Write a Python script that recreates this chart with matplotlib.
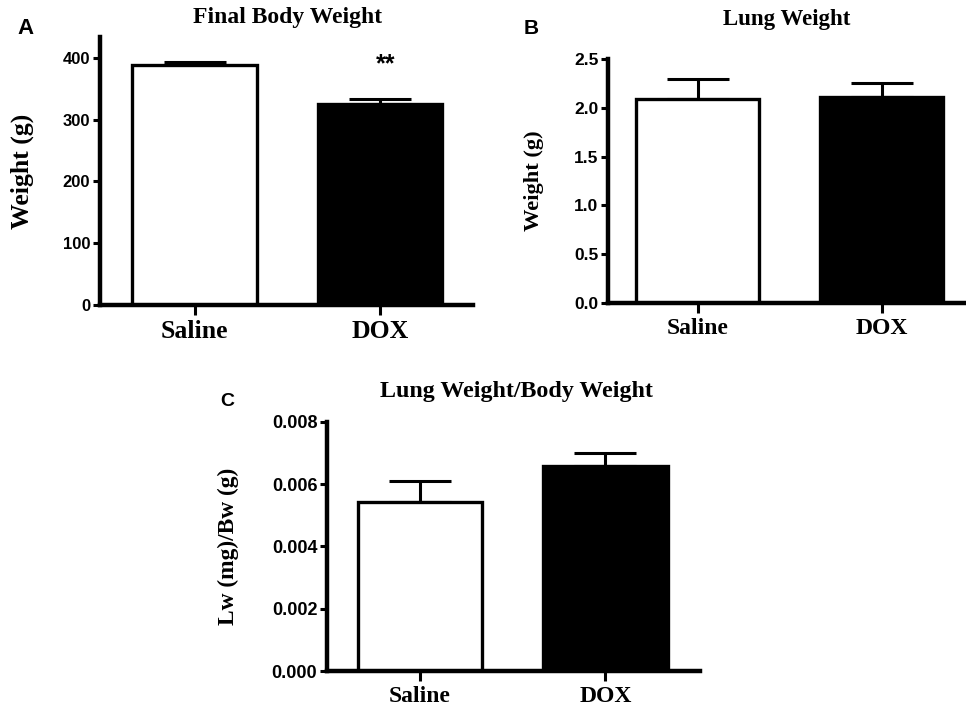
import matplotlib
matplotlib.use("Agg")
import matplotlib.pyplot as plt

W, H = 966, 708

groups = ["Saline", "DOX"]
bar_colors = ["white", "black"]

body_mean = [388, 325]
body_sem = [5, 8]

lung_mean = [2.09, 2.115]
lung_sem = [0.21, 0.14]

ratio_mean = [0.00541, 0.00659]
ratio_sem = [0.00070, 0.00040]

SERIF = "Liberation Serif"
SANS = "Liberation Sans"

fig = plt.figure(figsize=(W / 100, H / 100), dpi=100)


def px(x, y):
  return x / W, 1 - y / H


def box(left, top, right, bottom):
  return [left / W, 1 - bottom / H, (right - left) / W, (bottom - top) / H]


def draw_panel(rect, means, sems, ylim, yticks, yfmt, xlim, label_size, tick_size):
  ax = fig.add_axes(rect)
  x = range(len(groups))
  ax.errorbar(x, means, yerr=[[0] * len(sems), sems], fmt="none",
              ecolor="black", elinewidth=2.2, capsize=22, capthick=2.2, zorder=1)
  ax.bar(x, means, width=0.67, color=bar_colors, edgecolor="black",
         linewidth=2.4, zorder=2)
  ax.set_xlim(*xlim)
  ax.set_ylim(*ylim)
  ax.set_yticks(yticks)
  ax.set_yticklabels([yfmt.format(t) for t in yticks])
  ax.set_xticks(list(x))
  ax.set_xticklabels(groups)
  for s in ["top", "right"]:
    ax.spines[s].set_visible(False)
  for s in ["left", "bottom"]:
    ax.spines[s].set_linewidth(3.2)
  ax.tick_params(axis="y", direction="out", length=5, width=2.2, pad=2)
  ax.tick_params(axis="x", direction="out", length=7, width=2.2, pad=4)
  for t in ax.get_yticklabels():
    t.set_fontfamily(SANS)
    t.set_fontweight("bold")
    t.set_fontsize(tick_size)
  for t in ax.get_xticklabels():
    t.set_fontfamily(SERIF)
    t.set_fontweight("bold")
    t.set_fontsize(label_size)
  return ax


# A: final body weight
axA = draw_panel(box(100, 37, 473, 305), body_mean, body_sem, (0, 434),
                 [0, 100, 200, 300, 400], "{:.0f}", (-0.51, 1.5), 18.5, 12)
axA.annotate("**", xy=(1, body_mean[1] + body_sem[1]), xytext=(4, 25),
             textcoords="offset points", ha="center", va="center",
             fontfamily=SANS, fontweight="bold", fontsize=18)

# B: lung weight
draw_panel(box(608, 59, 966, 303), lung_mean, lung_sem, (0, 2.5),
           [0.0, 0.5, 1.0, 1.5, 2.0, 2.5], "{:.1f}", (-0.49, 1.46), 17, 12.5)

# C: lung / body weight
draw_panel(box(327, 421.7, 700, 671), ratio_mean, ratio_sem, (0, 0.008),
           [0.0, 0.002, 0.004, 0.006, 0.008], "{:.3f}", (-0.5, 1.51), 17, 13)

# titles
fig.text(*px(288, 18), "Final Body Weight", ha="center", va="center",
         fontfamily=SERIF, fontweight="bold", fontsize=17)
fig.text(*px(787, 19), "Lung Weight", ha="center", va="center",
         fontfamily=SERIF, fontweight="bold", fontsize=16.5)
fig.text(*px(516, 392), "Lung Weight/Body Weight", ha="center", va="center",
         fontfamily=SERIF, fontweight="bold", fontsize=17.3)

# y labels
fig.text(*px(22, 171), "Weight (g)", ha="center", va="center", rotation=90,
         fontfamily=SERIF, fontweight="bold", fontsize=18.5)
fig.text(*px(534, 181), "Weight (g)", ha="center", va="center", rotation=90,
         fontfamily=SERIF, fontweight="bold", fontsize=16.2)
fig.text(*px(228, 546), "Lw (mg)/Bw (g)", ha="center", va="center", rotation=90,
         fontfamily=SERIF, fontweight="bold", fontsize=16.8)

# panel letters
fig.text(*px(26, 28), "A", ha="center", va="center",
         fontfamily=SANS, fontweight="bold", fontsize=16)
fig.text(*px(531, 29), "B", ha="center", va="center",
         fontfamily=SANS, fontweight="bold", fontsize=15)
fig.text(*px(227, 401), "C", ha="center", va="center",
         fontfamily=SANS, fontweight="bold", fontsize=14)

fig.savefig("out.png", dpi=100)
